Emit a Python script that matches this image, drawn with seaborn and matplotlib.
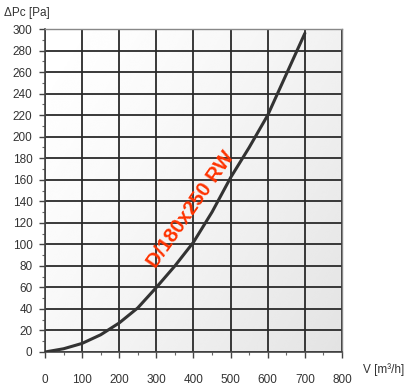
import numpy as np
import pandas as pd
import matplotlib
matplotlib.use("Agg")
import matplotlib.pyplot as plt
import seaborn as sns

flow = [0, 50, 100, 150, 200, 250, 300, 350, 400, 450, 500, 550, 600, 650, 700]
pressure = [0, 3, 8, 16, 27, 41, 60, 80, 102, 130, 162, 190, 220, 258, 296]
x_ticks = [0, 100, 200, 300, 400, 500, 600, 700, 800]
y_ticks = [0, 20, 40, 60, 80, 100, 120, 140, 160, 180, 200, 220, 240, 260, 280, 300]
label = "D/180x250 RW"

sns.set_theme(style="white")
plt.rcParams['font.family'] = ['Liberation Sans', 'DejaVu Sans']

fig = plt.figure(figsize=(4.1, 3.88), dpi=100)
ax = fig.add_axes([45/410, 1-352/388, (342-45)/410, (352-29)/388])

# background gradient
grad = np.linspace(0, 1, 200)
gx, gy = np.meshgrid(grad, grad[::-1])
g = np.clip((gx * 0.6 + (1 - gy) * 0.4), 0, 1) ** 1.4
img = 1 - 0.11 * g
ax.imshow(img, cmap="gray", vmin=0, vmax=1, extent=[0, 800, 0, 300],
          aspect="auto", zorder=0, interpolation="bicubic")

df = pd.DataFrame({"V": flow, "P": pressure})
sns.lineplot(data=df, x="V", y="P", ax=ax, color="#333333", linewidth=2.2, zorder=5)

ax.set_xlim(0, 800)
ax.set_ylim(0, 300)
ax.set_xticks(x_ticks)
ax.set_yticks(y_ticks)
ax.set_xticks(np.arange(0, 801, 50), minor=True)
ax.set_yticks(np.arange(0, 301, 10), minor=True)
ax.grid(True, which="major", color="#2a2a2a", linewidth=1.3, zorder=1)
ax.set_axisbelow(True)
ax.set_xlabel("")
ax.set_ylabel("")

for s in ["left", "bottom"]:
    ax.spines[s].set_color("#444444")
    ax.spines[s].set_linewidth(1.2)
for s in ["right", "top"]:
    ax.spines[s].set_color("#888888")
    ax.spines[s].set_linewidth(1.0)

ax.tick_params(axis="both", which="major", length=4, width=1, color="#444444",
               labelsize=8.5, labelcolor="#333333", bottom=True, left=True)
ax.tick_params(axis="both", which="minor", length=2.5, width=0.8, color="#666666",
               bottom=True, left=True)
ax.tick_params(axis="x", which="major", pad=12)
ax.tick_params(axis="y", which="major", pad=5)

ax.text(393, 132, label, rotation=55, rotation_mode="anchor", ha="center", va="center",
        color="#ff3300", fontsize=14.5, fontweight="bold", zorder=6)

fig.text(4/410, 1-13/388, "\u0394Pc [Pa]", fontsize=8.5, color="#333333", va="center", ha="left")
fig.text(363/410, 1-370/388, "V [m\u00b3/h]", fontsize=8.5, color="#333333", va="center", ha="left")

fig.savefig("out.png", dpi=100)
